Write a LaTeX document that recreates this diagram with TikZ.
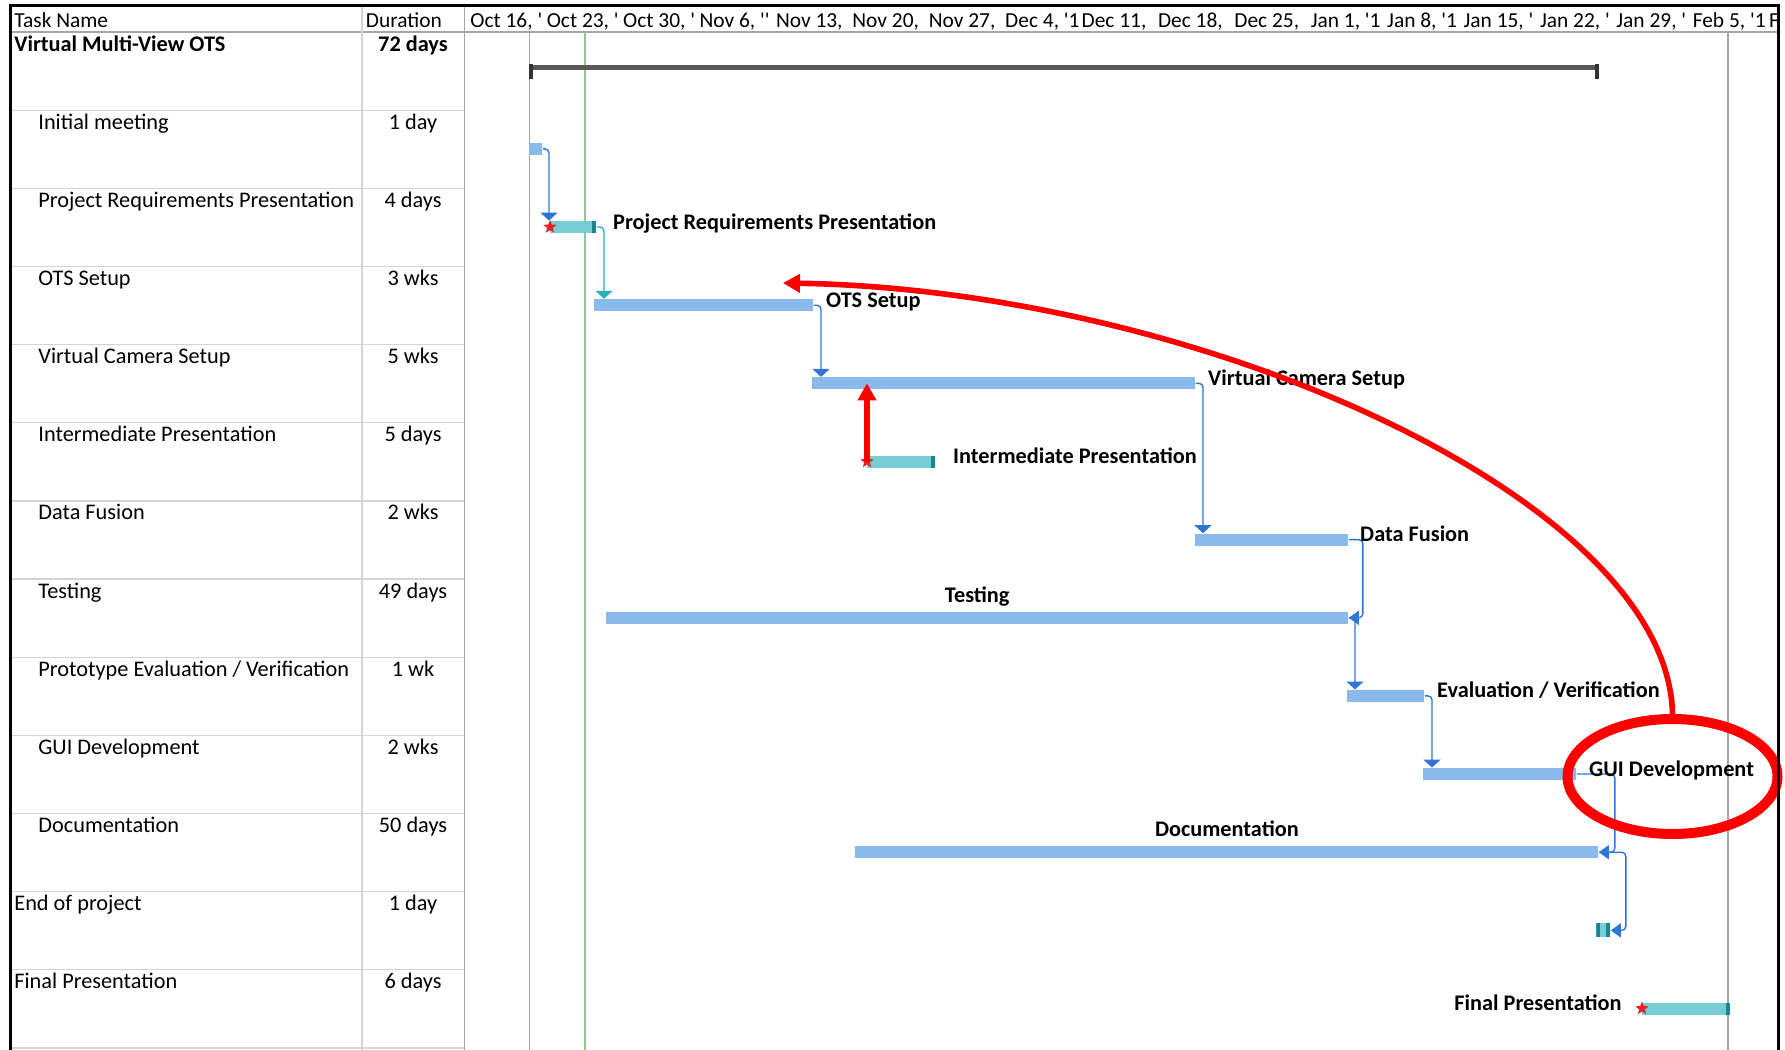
\documentclass[tikz,border=0pt]{standalone}
\usepackage{fontspec}
\setmainfont{Carlito}[Ligatures=TeXOff]
\usetikzlibrary{positioning,arrows.meta,shapes.geometric}

\definecolor{barblue}{RGB}{138,185,235}
\definecolor{linkblue}{RGB}{46,117,214}
\definecolor{barteal}{RGB}{118,205,212}
\definecolor{tealdark}{RGB}{20,135,145}
\definecolor{linkteal}{RGB}{40,176,186}
\definecolor{sumgray}{RGB}{89,89,89}
\definecolor{gridgray}{RGB}{166,166,166}
\definecolor{cellgray}{RGB}{212,212,212}
\definecolor{todaygreen}{RGB}{146,200,146}
\definecolor{starred}{RGB}{232,32,42}

\tikzset{
  cell/.style={anchor=base west, inner sep=0pt},
  dur/.style={anchor=base, inner sep=0pt},
  weekcell/.style={cell, font=\fontsize{10.7}{13}\selectfont},
  taskbar/.style={fill=barblue, inner sep=0pt, minimum height=6pt, anchor=west},
  tealbar/.style={taskbar, fill=barteal, path picture={\fill[tealdark] ([xshift=-2pt]path picture bounding box.south east) rectangle (path picture bounding box.north east);}},
  endbar/.style={taskbar, fill=barteal, minimum width=7pt, minimum height=7pt, path picture={\fill[tealdark] (path picture bounding box.south west) rectangle ([xshift=1.6pt]path picture bounding box.north west); \fill[tealdark] ([xshift=-2pt]path picture bounding box.south east) rectangle (path picture bounding box.north east);}},
  sumbar/.style={fill=sumgray, inner sep=0pt, minimum height=2.5pt, minimum width=534.5pt, anchor=west},
  sumtick/.style={fill=black!80},
  link/.style={draw=linkblue, line width=.7pt, rounded corners=2pt},
  downtip/.style={-{Triangle[width=8.5pt,length=4pt]}},
  lefttip/.style={-{Triangle[width=7pt,length=5pt]}},
  sidelabel/.style={font=\bfseries, inner sep=0pt, text height=7pt, text depth=2pt, yshift=1.5pt},
  toplabel/.style={font=\bfseries, inner sep=0pt, text height=7pt, text depth=2pt},
  redstar/.style={star, star points=5, star point ratio=2.3, fill=starred, inner sep=0pt, minimum size=7pt},
  redarrow/.style={draw=red, line width=2.8pt, -{Triangle[width=9pt,length=8.5pt]}},
  redring/.style={draw=red, line width=5pt, ellipse, inner sep=0pt, minimum width=105pt, minimum height=57.5pt}
}

\begin{document}
\begin{tikzpicture}[x=0.5pt,y=-0.5pt]
\fontsize{11.15}{13.5}\selectfont
\def\rh{78.15}
\useasboundingbox (0,0) rectangle (1785,1050);
\clip (0,0) rectangle (1785,1050);

\draw[gridgray, line width=.6pt] (10,32) -- (1778,32);
\foreach \r in {1,...,13}
  \draw[cellgray, line width=.6pt] (10,32+\r*\rh) -- (464.5,32+\r*\rh);
\draw[cellgray, line width=.6pt] (362,5) -- (362,1050);
\draw[gridgray, line width=.6pt] (464.5,5) -- (464.5,1050);
\draw[gridgray, line width=.6pt] (529.4,32) -- (529.4,1050);
\draw[gridgray, line width=.6pt] (1728,32) -- (1728,1050);
\draw[todaygreen, line width=1pt] (584.5,32) -- (584.5,1050);

\node[weekcell] (hname) at (14,27) {Task Name};
\node[weekcell] (hdur) at (365.5,27) {Duration};
\foreach \wk [count=\i from 0] in {{Oct 16, '},{Oct 23, '},{Oct 30, '},{Nov 6, ''},{Nov 13,},{Nov 20,},{Nov 27,},{Dec 4, '1},{Dec 11,},{Dec 18,},{Dec 25,},{Jan 1, '1},{Jan 8, '1},{Jan 15, '},{Jan 22, '},{Jan 29, '},{Feb 5, '1},{F}}
  \node[weekcell] (wk\i) at (470+76.4*\i,27) {\wk};

\node[cell, font=\bfseries] (t0) at (14,32+0*\rh+19) {Virtual Multi-View OTS};
\node[dur, font=\bfseries] (d0) at (413,32+0*\rh+19) {72 days};
\node[cell] (t1) at (38,32+1*\rh+19) {Initial meeting};
\node[dur] (d1) at (413,32+1*\rh+19) {1 day};
\node[cell] (t2) at (38,32+2*\rh+19) {Project Requirements Presentation};
\node[dur] (d2) at (413,32+2*\rh+19) {4 days};
\node[cell] (t3) at (38,32+3*\rh+19) {OTS Setup};
\node[dur] (d3) at (413,32+3*\rh+19) {3 wks};
\node[cell] (t4) at (38,32+4*\rh+19) {Virtual Camera Setup};
\node[dur] (d4) at (413,32+4*\rh+19) {5 wks};
\node[cell] (t5) at (38,32+5*\rh+19) {Intermediate Presentation};
\node[dur] (d5) at (413,32+5*\rh+19) {5 days};
\node[cell] (t6) at (38,32+6*\rh+19) {Data Fusion};
\node[dur] (d6) at (413,32+6*\rh+19) {2 wks};
\node[cell] (t7) at (38,32+7*\rh+19) {Testing};
\node[dur] (d7) at (413,32+7*\rh+19) {49 days};
\node[cell] (t8) at (38,32+8*\rh+19) {Prototype Evaluation / Verification};
\node[dur] (d8) at (413,32+8*\rh+19) {1 wk};
\node[cell] (t9) at (38,32+9*\rh+19) {GUI Development};
\node[dur] (d9) at (413,32+9*\rh+19) {2 wks};
\node[cell] (t10) at (38,32+10*\rh+19) {Documentation};
\node[dur] (d10) at (413,32+10*\rh+19) {50 days};
\node[cell] (t11) at (14,32+11*\rh+19) {End of project};
\node[dur] (d11) at (413,32+11*\rh+19) {1 day};
\node[cell] (t12) at (14,32+12*\rh+19) {Final Presentation};
\node[dur] (d12) at (413,32+12*\rh+19) {6 days};

\node[sumbar] (sum) at (529,67) {};
\fill[sumtick] (sum.north west) rectangle ++(4,15);
\fill[sumtick] (sum.north east) rectangle ++(-4,15);

\node[taskbar, minimum width=6.5pt] (im) at (529,148.9) {};
\node[tealbar, minimum width=23pt] (prp) at (550,227) {};
\node[taskbar, minimum width=109.5pt] (ots) at (594,305.2) {};
\node[taskbar, minimum width=191.5pt] (vcs) at (812,383.3) {};
\node[tealbar, minimum width=34pt] (ip) at (867,461.5) {};
\node[taskbar, minimum width=76.7pt] (df) at (1194.6,539.6) {};
\node[taskbar, minimum width=371.2pt] (test) at (605.6,617.8) {};
\node[taskbar, minimum width=38.5pt] (ev) at (1347,695.9) {};
\node[taskbar, minimum width=76.5pt] (gui) at (1423,774) {};
\node[taskbar, minimum width=371.5pt] (doc) at (855,852.2) {};
\node[endbar] (eop) at (1596,930.4) {};
\node[tealbar, minimum width=44pt] (fp) at (1642,1008.5) {};

\draw[link, downtip] (im.east) -| ([xshift=-.5pt]prp.north west);
\draw[link, draw=linkteal, downtip] (prp.east) -| ([xshift=5pt]ots.north west);
\draw[link, downtip] (ots.east) -| ([xshift=4.5pt]vcs.north west);
\draw[link, downtip] (vcs.east) -| ([xshift=4.2pt]df.north west);
\draw[link, lefttip] (df.east) -- ++(14,0) |- (test.east);
\draw[link, downtip] (test.east) -| ([xshift=4pt]ev.north west);
\draw[link, downtip] (ev.east) -| ([xshift=4.5pt]gui.north west);
\draw[link, lefttip] (gui.east) -- ++(38,0) |- (doc.east);
\draw[link, lefttip] (doc.east) -- ++(27,0) |- (eop.east);

\node[sidelabel, right=8pt of prp] (prpl) {Project Requirements Presentation};
\node[sidelabel, right=6pt of ots] (otsl) {OTS Setup};
\node[sidelabel, right=6pt of vcs] (vcsl) {Virtual Camera Setup};
\node[sidelabel, right=8.5pt of ip] (ipl) {Intermediate Presentation};
\node[sidelabel, right=5.5pt of df] (dfl) {Data Fusion};
\node[toplabel, above=2.5pt of test] (testl) {Testing};
\node[sidelabel, right=6pt of ev] (evl) {Evaluation / Verification};
\node[sidelabel, right=6pt of gui] (guil) {GUI Development};
\node[toplabel, above=2.5pt of doc] (docl) {Documentation};
\node[sidelabel, left=10pt of fp] (fpl) {Final Presentation};

\node[redstar] (prps) at (prp.west) {};
\node[redstar] (ips) at (ip.west) {};
\node[redstar] (fps) at (fp.west) {};

\draw[redarrow] (ips.center) -- (ips.center |- vcs.center);
\node[redring] (ring) at (1672.5,776.5) {};
\coordinate (back) at (783,283);
\draw[redarrow] (ring.north) .. controls (1668,500) and (1200,290) .. (back);

\draw[line width=1.5pt] (10,1050) -- (10,5) -- (1778,5) -- (1778,1050);
\end{tikzpicture}
\end{document}
